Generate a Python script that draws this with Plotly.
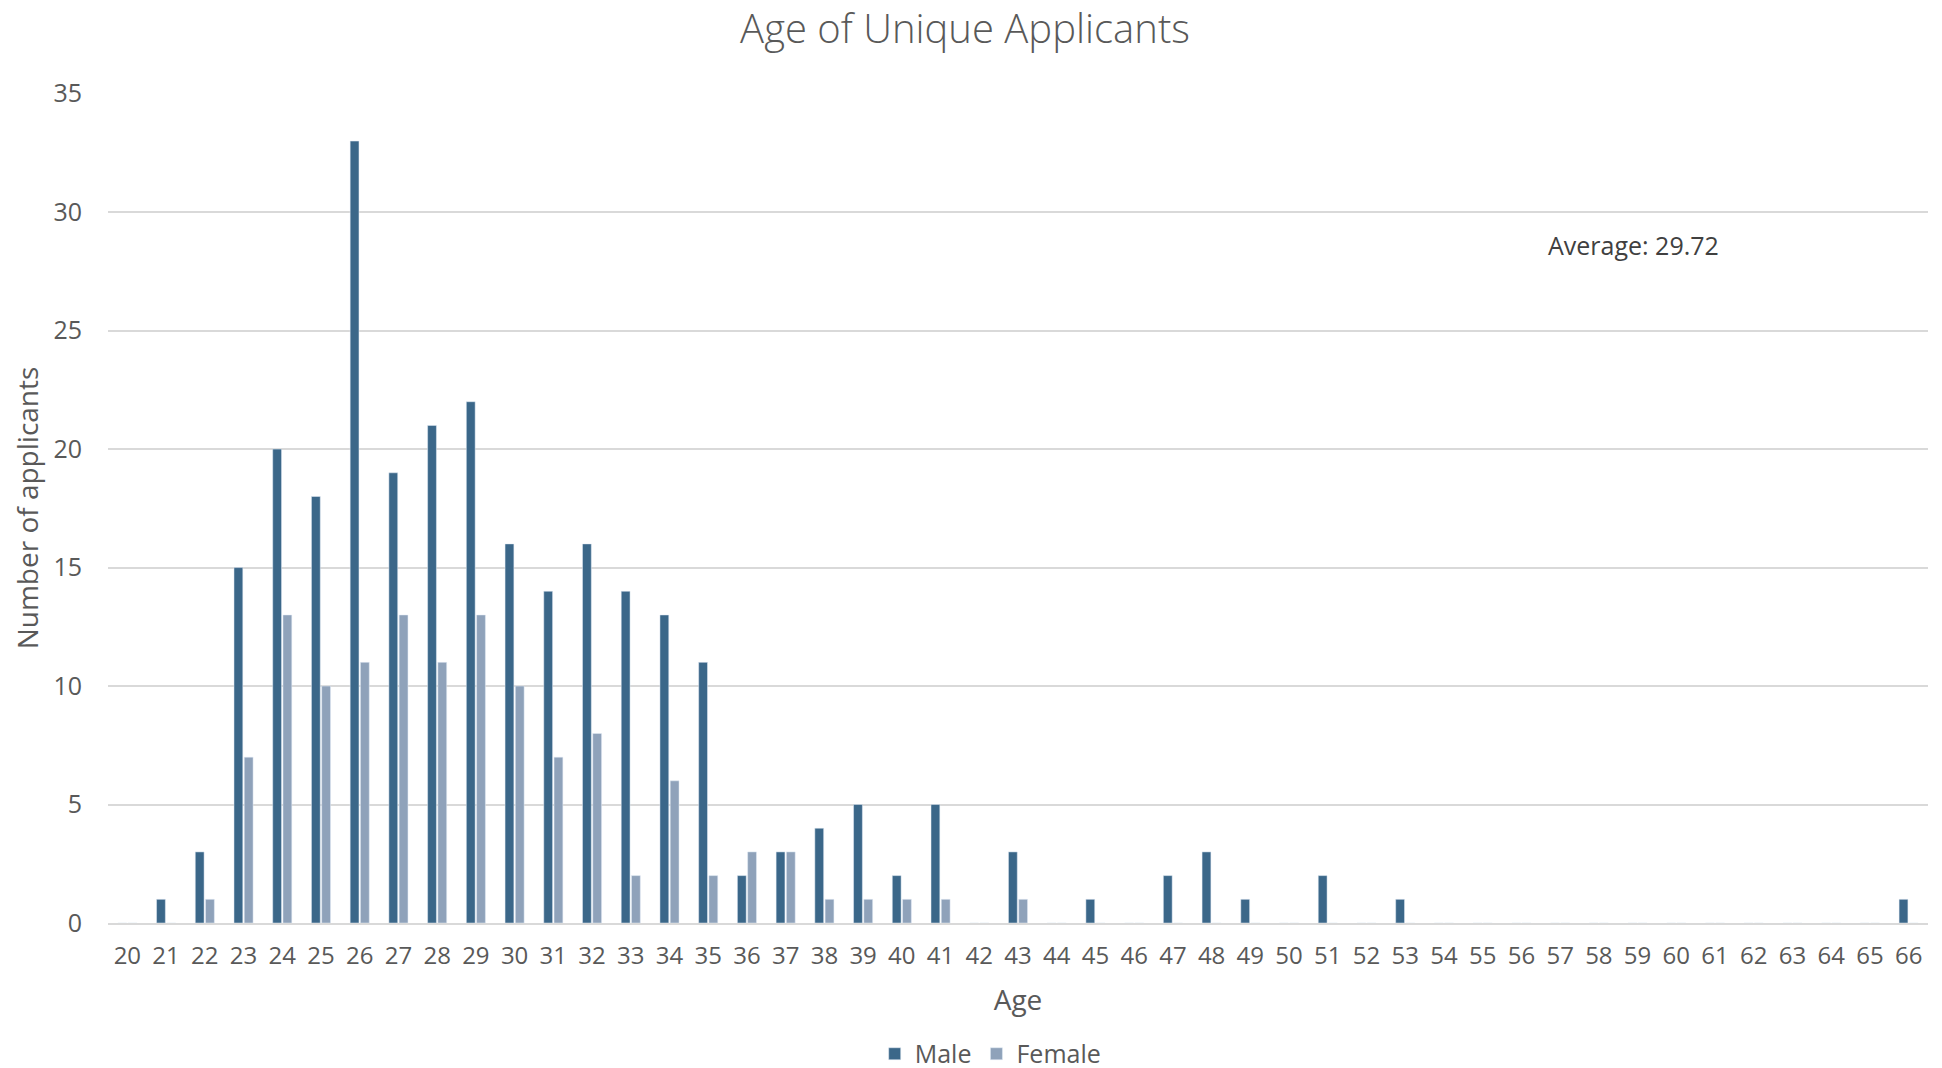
import plotly.graph_objects as go

ages = list(range(20, 67))

male = [0, 1, 3, 15, 20, 18, 33, 19, 21, 22, 16, 14, 16, 14, 13, 11, 2, 3, 4, 5,
        2, 5, 0, 3, 0, 1, 0, 2, 3, 1, 0, 2, 0, 1, 0, 0, 0, 0, 0, 0,
        0, 0, 0, 0, 0, 0, 1]
female = [0, 0, 1, 7, 13, 10, 11, 13, 11, 13, 10, 7, 8, 2, 6, 2, 3, 3, 1, 1,
          1, 1, 0, 1, 0, 0, 0, 0, 0, 0, 0, 0, 0, 0, 0, 0, 0, 0, 0, 0,
          0, 0, 0, 0, 0, 0, 0]

average_label = "Average: 29.72"

MALE_COLOR = "#3B6789"
FEMALE_COLOR = "#8FA2BA"
TEXT = "#595959"
FONT = "Open Sans"

fig = go.Figure()
fig.add_trace(go.Bar(x=ages, y=male, name="Male", marker_color=MALE_COLOR))
fig.add_trace(go.Bar(x=ages, y=female, name="Female", marker_color=FEMALE_COLOR))

# the page body adds an 8px offset, so everything is placed 8px up/left
fig.update_layout(
    width=1942,
    height=1068,
    paper_bgcolor="white",
    plot_bgcolor="white",
    barmode="group",
    bargap=0.47,
    bargroupgap=0.14,
    margin=dict(l=100, r=22, t=85, b=153),
    font=dict(family=FONT, color=TEXT, size=20),
    title=dict(
        text="Age of Unique Applicants",
        x=0.4928, xanchor="center",
        y=0.980, yanchor="middle",
        font=dict(size=40, color=TEXT, weight=300),
    ),
    legend=dict(
        orientation="h",
        x=0.485, xanchor="center",
        yref="container", y=0.0206, yanchor="middle",
        font=dict(size=25, color=TEXT),
        itemwidth=30,
    ),
    annotations=[
        dict(
            text=average_label,
            xref="paper", yref="paper",
            x=0.838, y=0.817,
            xanchor="center", yanchor="middle",
            showarrow=False,
            font=dict(size=25, color="#404040"),
        )
    ],
)

fig.update_xaxes(
    range=[19.5, 66.5],
    tickmode="linear", dtick=1,
    showgrid=False,
    showline=True, linecolor="#D9D9D9", linewidth=2,
    ticks="", ticklabelstandoff=10,
    tickfont=dict(size=24, color=TEXT),
    title=dict(text="Age", font=dict(size=28, color=TEXT), standoff=21),
    automargin=False,
)
fig.update_yaxes(
    range=[0, 35.03],
    tickmode="linear", dtick=5,
    showgrid=True, gridcolor="#D9D9D9", gridwidth=1.5,
    zeroline=False,
    ticks="", ticklabelstandoff=25,
    tickfont=dict(size=25, color=TEXT),
    title=dict(text="Number of applicants", font=dict(size=28, color=TEXT), standoff=22),
    automargin=False,
)

fig.write_html("out.html")
